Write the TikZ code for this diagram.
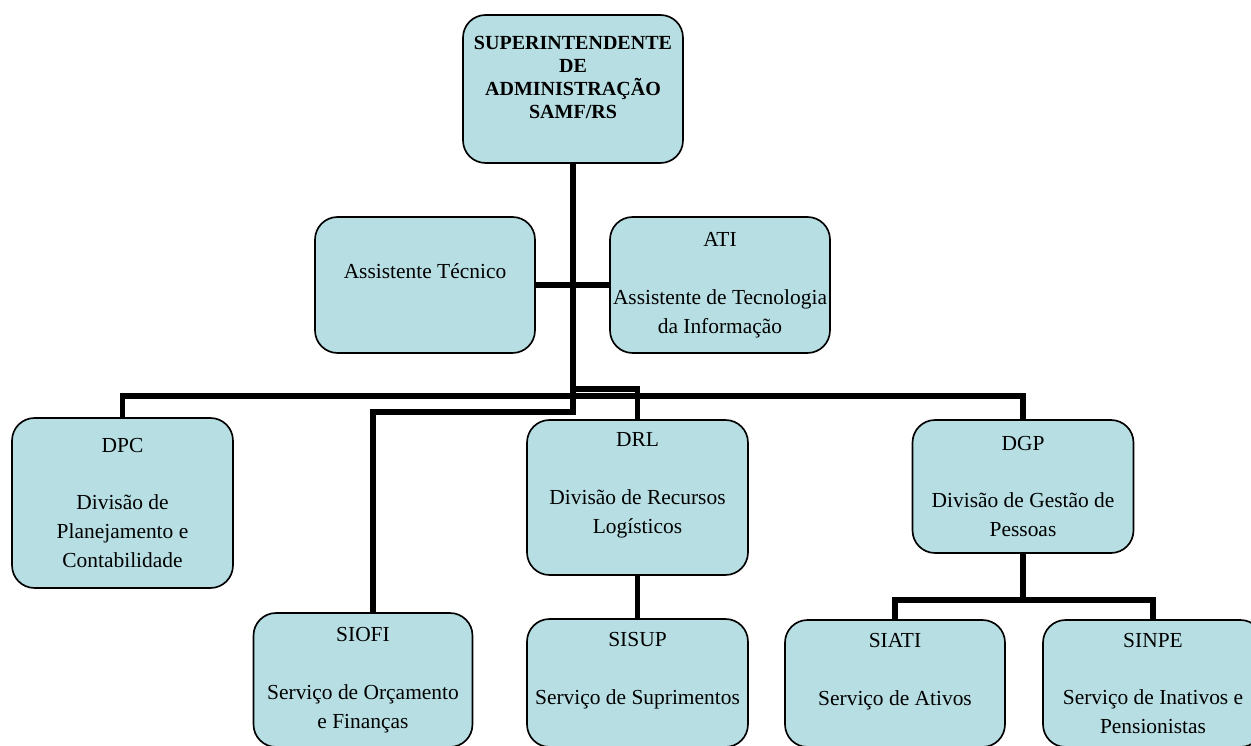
\documentclass[tikz,border=0pt]{standalone}
\usepackage{fontspec}
\setmainfont{Liberation Serif}
\definecolor{azulclaro}{HTML}{B7DEE3}

\begin{document}
\begin{tikzpicture}[line join=miter,x=0.02cm,y=-0.02cm,
	caixa/.style={draw=black,line width=0.95pt,fill=azulclaro,rounded corners=0.45cm,align=center,inner sep=0pt,outer sep=0pt,font=\fontsize{12.2}{16.4}\selectfont},
	ligacao/.style={line width=3.1pt}]
	\useasboundingbox (0,0) rectangle (1251,746);
	\clip (0,0) rectangle (1251,746);
	% caixas
	\node[caixa,minimum width=4.4cm,minimum height=2.96cm,font=\bfseries\fontsize{11.4}{13}\selectfont] (sup) at (573,89) {SUPERINTENDENTE\\DE\\ADMINISTRAÇÃO\\SAMF/RS\\ \mbox{}};
	\node[caixa,minimum width=4.4cm,minimum height=2.72cm] (ast) at (425,285) {Assistente Técnico\\ \mbox{}};
	\node[caixa,minimum width=4.4cm,minimum height=2.72cm] (ati) at (720,285) {ATI\\[16.4pt]Assistente de Tecnologia\\da Informação};
	\node[caixa,minimum width=4.42cm,minimum height=3.4cm] (dpc) at (122.5,503) {DPC\\[16.4pt]Divisão de\\Planejamento e\\Contabilidade};
	\node[caixa,minimum width=4.42cm,minimum height=3.1cm] (drl) at (637.5,497.5) {DRL\\[16.4pt]Divisão de Recursos\\Logísticos\\ \mbox{}};
	\node[caixa,minimum width=4.42cm,minimum height=2.66cm] (dgp) at (1023,486.5) {DGP\\[16.4pt]Divisão de Gestão de\\Pessoas};
	\node[caixa,minimum width=4.38cm,minimum height=2.68cm] (siofi) at (363,680) {SIOFI\\[16.4pt]Serviço de Orçamento\\e Finanças};
	\node[caixa,minimum width=4.42cm,minimum height=2.56cm] (sisup) at (637.5,683) {SISUP\\[16.4pt]Serviço de Suprimentos\\ \mbox{}};
	\node[caixa,minimum width=4.4cm,minimum height=2.54cm] (siati) at (895,683.5) {SIATI\\[16.4pt]Serviço de Ativos\\ \mbox{}};
	\node[caixa,minimum width=4.4cm,minimum height=2.54cm] (sinpe) at (1153,683.5) {SINPE\\[16.4pt]Serviço de Inativos e\\Pensionistas};
	% niveis das ligacoes
	\coordinate (nivelA) at (0,389);
	\coordinate (nivelB) at (0,396);
	\coordinate (nivelC) at (0,412);
	\coordinate (nivelD) at (0,600);
	\coordinate (siofitopo) at ([xshift=0.2cm]siofi.north);
	% ligacoes
	\draw[ligacao] (sup.south) -- (sup.south |- nivelC) -- (siofitopo |- nivelC) -- (siofitopo);
	\draw[ligacao] (sup.south |- nivelA) -- (drl.north |- nivelA) -- (drl.north);
	\draw[ligacao] (dpc.north) -- (dpc.north |- nivelB) -- (dgp.north |- nivelB) -- (dgp.north);
	\draw[ligacao] (ast.east) -- (ati.west);
	\draw[ligacao] (drl.south) -- (sisup.north);
	\draw[ligacao] (dgp.south) -- (dgp.south |- nivelD);
	\draw[ligacao] (siati.north) -- (siati.north |- nivelD) -- (sinpe.north |- nivelD) -- (sinpe.north);
\end{tikzpicture}
\end{document}
